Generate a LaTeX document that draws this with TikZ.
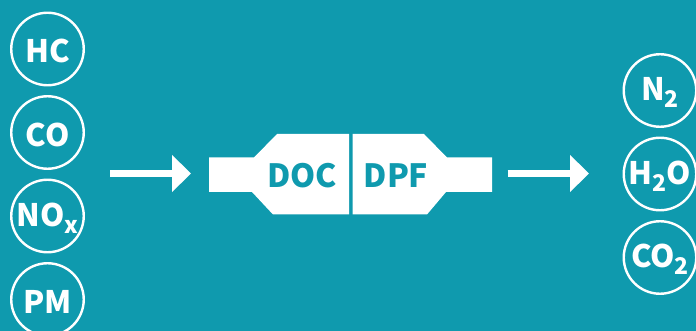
\documentclass[tikz,border=0pt]{standalone}
\usepackage{fontspec}
\setmainfont{Noto Sans CJK SC}
\usetikzlibrary{arrows.meta}
\definecolor{tealbg}{HTML}{0F9AAE}
\newcommand{\subs}[1]{\raisebox{-7pt}{\fontsize{23}{23}\selectfont #1}}
\newcommand{\low}[1]{\raisebox{-2pt}[\height][\depth]{#1}}
\tikzset{
  gas/.style={circle,draw=white,line width=2.4pt,minimum size=72.5pt,inner sep=0pt,text=white,font=\fontsize{31}{31}\selectfont\bfseries},
  flow/.style={draw=white,line width=7.5pt,-{Triangle[length=19pt,width=36pt]}},
  body/.style={fill=white},
  lab/.style={text=tealbg,inner sep=0pt,font=\fontsize{32}{32}\selectfont\bfseries}
}
\begin{document}
\begin{tikzpicture}[x=1pt,y=-1pt]
\useasboundingbox (0,0) rectangle (696,331);
\clip (0,0) rectangle (696,331);
\fill[tealbg] (0,0) rectangle (696,331);
\node[gas] (hc) at (47.5,49) {\low{HC}};
\node[gas] (co) at (47.5,132.5) {\low{CO}};
\node[gas] (nox) at (47.5,216) {\low{NO\subs{x}}};
\node[gas] (pm) at (47.5,299.5) {\low{PM}};
\node[gas] (n2) at (660,90.5) {\low{N\subs{2}}};
\node[gas] (h2o) at (660,174) {\low{H\subs{2}O}};
\node[gas] (co2) at (660,257.5) {\low{CO\subs{2}}};
\fill[body] (209,157.5) -- (254,157.5) -- (277,134) -- (349,134) -- (349,214.5) -- (273,214.5) -- (252,192) -- (209,192) -- cycle;
\fill[body] (352.5,134) -- (424,134) -- (447,157.5) -- (492,157.5) -- (492,192) -- (446,192) -- (427,214.5) -- (352.5,214.5) -- cycle;
\node[lab] (doc) at (302,174) {\low{DOC}};
\node[lab] (dpf) at (396,174) {\low{DPF}};
\coordinate (a1) at (110,173.5);
\coordinate (a2) at (191,173.5);
\coordinate (b1) at (507.5,173.5);
\coordinate (b2) at (589,173.5);
\draw[flow] (a1) -- (a2);
\draw[flow] (b1) -- (b2);
\end{tikzpicture}
\end{document}
